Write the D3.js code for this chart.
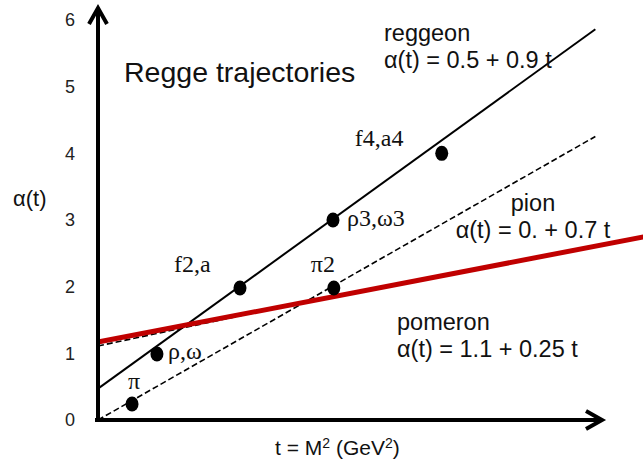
<!DOCTYPE html>
<html>
<head>
<meta charset="utf-8">
<script src="https://cdn.jsdelivr.net/npm/d3@7"></script>
<style>
body{margin:0;background:#fff;}
svg{display:block;}
</style>
</head>
<body>
<div id="chart"></div>
<script>
// y ticks
var yTicks=[0,1,2,3,4,5,6];

// trajectories: intercept, slope, last t
var lineNames=['reggeon','pion','pomeronDash','pomeron'];
var lineIntercept=[0.47,0,1.11,1.17];
var lineSlope=[0.9,0.71,0.265,0.24];
var lineEnd=[5.99,5.99,2.0,6.6];

// mesons (t = M^2, alpha)
var pointNames=['π','ρ,ω','f2,a','π2','ρ3,ω3','f4,a4'];
var pointT=[0.41,0.71,1.71,2.84,2.83,4.14];
var pointA=[0.24,0.99,1.98,1.98,3.0,4.0];

var W=643,H=461;
var svg=d3.select('#chart').append('svg').attr('width',W).attr('height',H);

var x=d3.scaleLinear().domain([0,6.6]).range([98,646]);
var y=d3.scaleLinear().domain([0,6]).range([420,20]);

// tick labels only
var gy=svg.append('g').attr('transform','translate('+x(0)+',0)')
	.call(d3.axisLeft(y).tickValues(yTicks).tickSize(0).tickPadding(23).tickFormat(d3.format('d')));
gy.select('.domain').remove();
gy.selectAll('text').attr('font-family','Liberation Sans, Arial, sans-serif').attr('font-size',18).attr('fill','#222');

// trajectories
var styles={
	reggeon:{stroke:'#000',w:2,dash:null},
	pion:{stroke:'#000',w:1.6,dash:'6,3'},
	pomeronDash:{stroke:'#000',w:1.6,dash:'6,3'},
	pomeron:{stroke:'#c00000',w:5,dash:null}
};
var line=d3.line().x(function(d){return x(d[0]);}).y(function(d){return y(d[1]);});
lineNames.forEach(function(n,i){
	var pts=[[0,lineIntercept[i]],[lineEnd[i],lineIntercept[i]+lineSlope[i]*lineEnd[i]]];
	svg.append('path').attr('d',line(pts)).attr('fill','none')
		.attr('stroke',styles[n].stroke).attr('stroke-width',styles[n].w)
		.attr('stroke-dasharray',styles[n].dash);
});

// axes with open arrows
var ax=svg.append('g').attr('stroke','#000').attr('stroke-width',4).attr('fill','none');
ax.append('line').attr('x1',x(0)).attr('y1',y(0)+2).attr('x2',x(0)).attr('y2',8);
ax.append('line').attr('x1',x(0)-3).attr('y1',y(0)).attr('x2',602).attr('y2',y(0));
ax.append('path').attr('d','M'+(x(0)-9)+',24L'+x(0)+',8L'+(x(0)+9)+',24').attr('stroke-linejoin','miter');
ax.append('path').attr('d','M586,'+(y(0)-9)+'L602,'+y(0)+'L586,'+(y(0)+9)).attr('stroke-linejoin','miter');

// points
svg.selectAll('ellipse.pt').data(pointNames).enter().append('ellipse')
	.attr('cx',function(d,i){return x(pointT[i]);})
	.attr('cy',function(d,i){return y(pointA[i]);})
	.attr('rx',6.5).attr('ry',7.5).attr('fill','#000');

// point labels (offsets from the point)
var labDx=[-4,11,-66,-23,14,-87];
var labDy=[-15,5,-16,-16,6,-7];
svg.selectAll('text.pl').data(pointNames).enter().append('text')
	.attr('x',function(d,i){return x(pointT[i])+labDx[i];})
	.attr('y',function(d,i){return y(pointA[i])+labDy[i];})
	.attr('font-family','Liberation Serif, Times New Roman, serif').attr('font-size',24)
	.attr('fill','#111').text(function(d){return d;});

var sans='Liberation Sans, Arial, sans-serif';
svg.append('text').attr('x',124).attr('y',82).attr('font-family',sans).attr('font-size',28.5).attr('fill','#111').text('Regge trajectories');

function twoLines(xp,yp,a,b,anchor){
	var t=svg.append('text').attr('font-family',sans).attr('font-size',23.5).attr('fill','#111').attr('text-anchor',anchor);
	t.append('tspan').attr('x',xp).attr('y',yp).text(a);
	t.append('tspan').attr('x',xp).attr('y',yp+27).text(b);
}
twoLines(384,41,'reggeon','α(t) = 0.5 + 0.9 t','start');
twoLines(533,211,'pion','α(t) = 0. + 0.7 t','middle');
twoLines(397,330,'pomeron','α(t) = 1.1 + 0.25 t','start');

// axis titles
svg.append('text').attr('x',13).attr('y',206).attr('font-family',sans).attr('font-size',22).attr('fill','#111').text('α(t)');
var xt=svg.append('text').attr('x',275).attr('y',455).attr('font-family',sans).attr('font-size',21).attr('fill','#111');
xt.append('tspan').text('t = M');
xt.append('tspan').attr('font-size',14).attr('dy',-7).text('2');
xt.append('tspan').attr('dy',7).text(' (GeV');
xt.append('tspan').attr('font-size',14).attr('dy',-7).text('2');
xt.append('tspan').attr('dy',7).text(')');
</script>
</body>
</html>
